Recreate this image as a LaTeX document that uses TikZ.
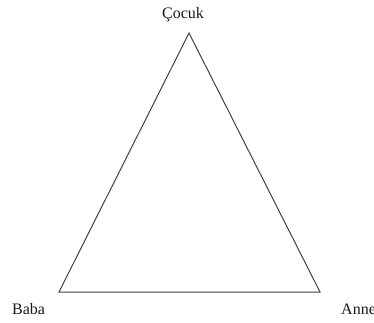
\documentclass[tikz,border=0pt]{standalone}
\usepackage{fontspec}
\setmainfont{Liberation Serif}
\begin{document}
\begin{tikzpicture}[x=1pt,y=-1pt,
  lbl/.style={font=\fontsize{16}{18}\selectfont, inner sep=0pt, text=black!90},
  edge/.style={draw=black!75, line width=1pt, line join=miter}]
\useasboundingbox (0,0) rectangle (374,322);
\coordinate (c) at (189,33);
\coordinate (b) at (59,292);
\coordinate (a) at (320,292);
\node[lbl, anchor=base] (lc) at (183,18) {Çocuk};
\node[lbl, anchor=base west] (lb) at (12,314) {Baba};
\node[lbl, anchor=base west] (la) at (341,314) {Anne};
\draw[edge] (c) -- (b) -- (a) -- cycle;
\end{tikzpicture}
\end{document}
